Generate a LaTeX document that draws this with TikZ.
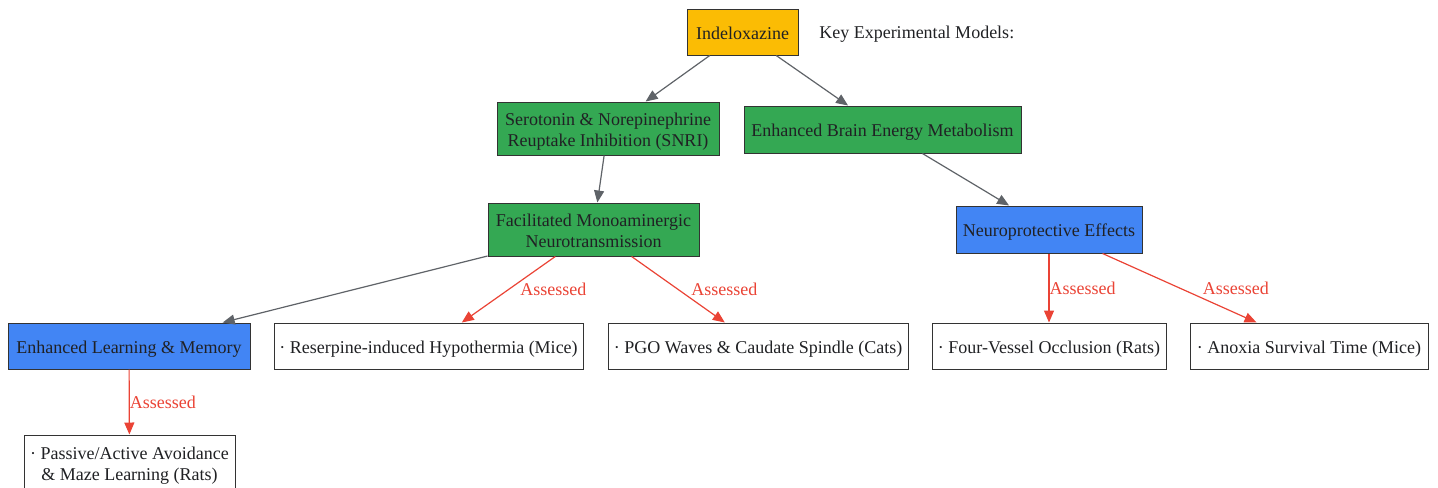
\documentclass[tikz,border=0pt]{standalone}
\usepackage{fontspec}
\setmainfont{Liberation Serif}
\usetikzlibrary{arrows.meta}
\definecolor{cyel}{HTML}{FBBC04}
\definecolor{cgrn}{HTML}{34A853}
\definecolor{cblu}{HTML}{4285F4}
\definecolor{cred}{HTML}{EA4335}
\definecolor{cgry}{HTML}{5F6368}
\definecolor{ctxt}{HTML}{202124}
\definecolor{cbrd}{HTML}{333333}
\newcommand{\tstrut}{\rule{0pt}{14.2pt}}
\newcommand{\bstrut}{\rule[-3.5pt]{0pt}{0pt}}
\tikzset{
  box/.style={draw=cbrd, line width=0.75pt, rectangle, inner sep=0pt, align=center,
    text=ctxt, font=\fontsize{13.5}{15.75}\selectfont},
  ybox/.style={box, fill=cyel},
  gbox/.style={box, fill=cgrn},
  bbox/.style={box, fill=cblu},
  wbox/.style={box, fill=white},
  flow/.style={draw=cgry, line width=0.9pt, -{Triangle[length=9pt,width=7.5pt]}},
  assess/.style={draw=cred, line width=0.9pt, -{Triangle[length=9pt,width=7.5pt]}},
  lbl/.style={text=cred, inner sep=0pt, anchor=west, font=\fontsize{13.5}{15}\selectfont},
  plain/.style={text=ctxt, inner sep=0pt, anchor=west, font=\fontsize{13.5}{15}\selectfont}
}
\begin{document}
\begin{tikzpicture}[x=0.75pt, y=-0.75pt]
\useasboundingbox (0,0) rectangle (1438,487);
\begin{scope}
\clip (0,0) rectangle (1438,487);
\node[ybox, minimum width=111*0.75pt, minimum height=46*0.75pt] (ind) at (742.5,32) {\tstrut Indeloxazine\bstrut};
\node[plain] (key) at (819,34) {Key Experimental Models:};
\node[gbox, minimum width=222*0.75pt, minimum height=53*0.75pt] (snri) at (608,128.5) {\tstrut Serotonin \& Norepinephrine\\Reuptake Inhibition (SNRI)\bstrut};
\node[gbox, minimum width=277*0.75pt, minimum height=47*0.75pt] (ebem) at (882.5,129.5) {\tstrut Enhanced Brain Energy Metabolism\bstrut};
\node[gbox, minimum width=211*0.75pt, minimum height=53*0.75pt] (fmn) at (593.5,229.5) {\tstrut Facilitated Monoaminergic\\Neurotransmission\bstrut};
\node[bbox, minimum width=186*0.75pt, minimum height=47*0.75pt] (npe) at (1049,229.5) {\tstrut Neuroprotective Effects\bstrut};
\node[bbox, minimum width=242*0.75pt, minimum height=46*0.75pt] (elm) at (129,346) {\tstrut Enhanced Learning \& Memory\bstrut};
\node[wbox, minimum width=309*0.75pt, minimum height=46*0.75pt] (rih) at (428.5,346) {\tstrut · Reserpine-induced Hypothermia (Mice)\bstrut};
\node[wbox, minimum width=300*0.75pt, minimum height=46*0.75pt] (pgo) at (758,346) {\tstrut · PGO Waves \& Caudate Spindle (Cats)\bstrut};
\node[wbox, minimum width=234*0.75pt, minimum height=46*0.75pt] (fvo) at (1049,346) {\tstrut · Four-Vessel Occlusion (Rats)\bstrut};
\node[wbox, minimum width=238*0.75pt, minimum height=46*0.75pt] (ast) at (1309,346) {\tstrut · Anoxia Survival Time (Mice)\bstrut};
\node[wbox, minimum width=211*0.75pt, minimum height=56*0.75pt] (pam) at (129.5,463) {\tstrut · Passive/Active Avoidance\\\& Maze Learning (Rats)\bstrut};

\draw[flow] (ind) -- (snri);
\draw[flow] (ind) -- (ebem);
\draw[flow] (snri) -- (fmn);
\draw[flow] (ebem) -- (npe);
\draw[flow] (fmn) -- (elm);
\draw[assess] (fmn) -- node[lbl, pos=0.5, xshift=8.5pt] (l1) {Assessed} (rih);
\draw[assess] (fmn) -- node[lbl, pos=0.5, xshift=9.5pt] (l2) {Assessed} (pgo);
\draw[assess] (npe) -- node[lbl, pos=0.5, xshift=0pt] (l3) {Assessed} (fvo);
\draw[assess] (npe) -- node[lbl, pos=0.5, xshift=17pt] (l4) {Assessed} (ast);
\draw[assess] (elm) -- node[lbl, pos=0.5, xshift=0pt] (l5) {Assessed} (pam);
\end{scope}
\end{tikzpicture}
\end{document}
